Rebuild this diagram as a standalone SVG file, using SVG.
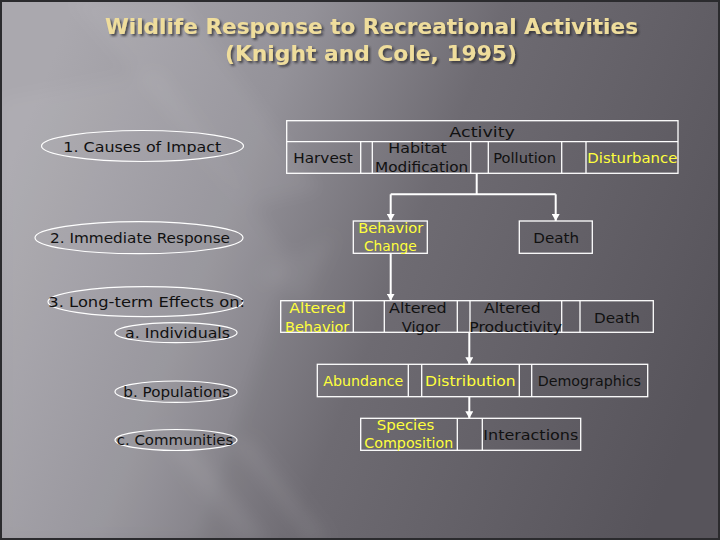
<svg xmlns="http://www.w3.org/2000/svg" width="720" height="540" viewBox="0 0 720 540">
<defs>
<linearGradient id="bg" x1="0" y1="0.35" x2="1" y2="0.65">
<stop offset="0" stop-color="#aaa8ae"/>
<stop offset="0.3" stop-color="#949299"/>
<stop offset="0.55" stop-color="#6e6b72"/>
<stop offset="1" stop-color="#57545b"/>
</linearGradient>
<filter id="soft" x="-20%" y="-20%" width="140%" height="140%">
<feGaussianBlur stdDeviation="8"/>
</filter>
<filter id="shadow" x="-5%" y="-20%" width="110%" height="150%">
<feDropShadow dx="2" dy="2" stdDeviation="0.8" flood-color="#222226" flood-opacity="0.7"/>
</filter>
<marker id="arr" markerUnits="userSpaceOnUse" markerWidth="7" markerHeight="8" refX="7" refY="4" orient="auto" viewBox="0 0 7 8">
<path d="M0,0 L7,4 L0,8 Z" fill="#ffffff"/>
</marker>
<style>
.t{font-family:"DejaVu Sans",sans-serif;font-size:14px;fill:#111111}
.y{fill:#ffff3c}
.title{font-family:"DejaVu Sans",sans-serif;font-weight:bold;font-size:22px;fill:#efdd9c}
.ell{fill:none;stroke:#ffffff;stroke-width:1.2}
.box{fill:none;stroke:#ffffff;stroke-width:1.3}
.con{fill:none;stroke:#ffffff;stroke-width:2}
</style>
</defs>
<rect x="0" y="0" width="720" height="540" fill="url(#bg)"/>
<g filter="url(#soft)">
<polygon points="70,0 180,0 320,190 250,205" fill="#ffffff" opacity="0.05"/>
<polygon points="0,100 160,70 290,260 200,540 0,540" fill="#ffffff" opacity="0.05"/>
<polygon points="155,430 180,430 270,540 240,540" fill="#ffffff" opacity="0.07"/>
<polygon points="230,440 252,440 330,540 305,540" fill="#ffffff" opacity="0.07"/>
<polygon points="255,275 335,235 305,300" fill="#ffffff" opacity="0.05"/>
</g>
<rect x="1" y="1" width="718" height="538" fill="none" stroke="#2b2b2e" stroke-width="2"/>

<g id="title" filter="url(#shadow)">
<text class="title" x="105" y="34" textLength="533" lengthAdjust="spacingAndGlyphs">Wildlife Response to Recreational Activities</text>
<text class="title" x="225" y="61" textLength="292" lengthAdjust="spacingAndGlyphs">(Knight and Cole, 1995)</text>
</g>

<g id="causes">
<ellipse class="ell" cx="142.5" cy="146" rx="101" ry="15.5"/>
<text class="t" x="63.3" y="151.7" textLength="158" lengthAdjust="spacingAndGlyphs">1. Causes of Impact</text>
</g>
<g id="immediate">
<ellipse class="ell" cx="139" cy="237.7" rx="104" ry="16"/>
<text class="t" x="50" y="243.3" textLength="180" lengthAdjust="spacingAndGlyphs">2. Immediate Response</text>
</g>
<g id="longterm">
<ellipse class="ell" cx="145.5" cy="301.7" rx="97.5" ry="15"/>
<text class="t" x="48.3" y="307.3" textLength="196.7" lengthAdjust="spacingAndGlyphs">3. Long-term Effects on:</text>
</g>
<g id="individuals">
<ellipse class="ell" cx="176" cy="332.7" rx="61" ry="10"/>
<text class="t" x="125" y="338.3" textLength="105" lengthAdjust="spacingAndGlyphs">a. Individuals</text>
</g>
<g id="populations">
<ellipse class="ell" cx="176" cy="391.7" rx="61" ry="10.7"/>
<text class="t" x="123.3" y="396.7" textLength="106.7" lengthAdjust="spacingAndGlyphs">b. Populations</text>
</g>
<g id="communities">
<ellipse class="ell" cx="176" cy="440" rx="61" ry="10.5"/>
<text class="t" x="116.7" y="445" textLength="116.6" lengthAdjust="spacingAndGlyphs">c. Communities</text>
</g>

<g id="activity">
<rect class="box" x="286.7" y="120.7" width="391.3" height="52.6"/>
<line class="box" x1="286.7" y1="141.7" x2="678" y2="141.7"/>
<line class="box" x1="360.7" y1="141.7" x2="360.7" y2="173.3"/>
<line class="box" x1="372.3" y1="141.7" x2="372.3" y2="173.3"/>
<line class="box" x1="470.7" y1="141.7" x2="470.7" y2="173.3"/>
<line class="box" x1="488.3" y1="141.7" x2="488.3" y2="173.3"/>
<line class="box" x1="561.7" y1="141.7" x2="561.7" y2="173.3"/>
<line class="box" x1="586" y1="141.7" x2="586" y2="173.3"/>
<text class="t" x="449.3" y="137.3" textLength="65.7" lengthAdjust="spacingAndGlyphs">Activity</text>
</g>
<g id="harvest"><text class="t" x="293.3" y="163.3" textLength="59.4" lengthAdjust="spacingAndGlyphs">Harvest</text></g>
<g id="habitat">
<text class="t" x="388.3" y="152.7" textLength="58.4" lengthAdjust="spacingAndGlyphs">Habitat</text>
<text class="t" x="375" y="171.7" textLength="93.3" lengthAdjust="spacingAndGlyphs">Modification</text>
</g>
<g id="pollution"><text class="t" x="493.3" y="163.3" textLength="62.7" lengthAdjust="spacingAndGlyphs">Pollution</text></g>
<g id="disturbance"><text class="t y" x="587.3" y="163.3" textLength="90" lengthAdjust="spacingAndGlyphs">Disturbance</text></g>

<g id="behavior-change">
<rect class="box" x="353.3" y="221" width="74" height="32.3"/>
<text class="t y" x="358.3" y="232.7" textLength="65" lengthAdjust="spacingAndGlyphs">Behavior</text>
<text class="t y" x="364" y="250.7" textLength="52.7" lengthAdjust="spacingAndGlyphs">Change</text>
</g>
<g id="death1">
<rect class="box" x="519.3" y="221" width="73" height="32.3"/>
<text class="t" x="533.3" y="243.3" textLength="45.7" lengthAdjust="spacingAndGlyphs">Death</text>
</g>

<g id="individual-effects">
<rect class="box" x="280.7" y="300.7" width="372.6" height="31.6"/>
<line class="box" x1="353.3" y1="300.7" x2="353.3" y2="332.3"/>
<line class="box" x1="384.3" y1="300.7" x2="384.3" y2="332.3"/>
<line class="box" x1="457.3" y1="300.7" x2="457.3" y2="332.3"/>
<line class="box" x1="470" y1="300.7" x2="470" y2="332.3"/>
<line class="box" x1="561.7" y1="300.7" x2="561.7" y2="332.3"/>
<line class="box" x1="580" y1="300.7" x2="580" y2="332.3"/>
</g>
<g id="altered-behavior">
<text class="t y" x="289.3" y="313.3" textLength="56.7" lengthAdjust="spacingAndGlyphs">Altered</text>
<text class="t y" x="285" y="331.7" textLength="64.3" lengthAdjust="spacingAndGlyphs">Behavior</text>
</g>
<g id="altered-vigor">
<text class="t" x="389" y="313.3" textLength="57.7" lengthAdjust="spacingAndGlyphs">Altered</text>
<text class="t" x="401.7" y="331.7" textLength="38.3" lengthAdjust="spacingAndGlyphs">Vigor</text>
</g>
<g id="altered-productivity">
<text class="t" x="484" y="313.3" textLength="56.7" lengthAdjust="spacingAndGlyphs">Altered</text>
<text class="t" x="469.3" y="331.7" textLength="92.7" lengthAdjust="spacingAndGlyphs">Productivity</text>
</g>
<g id="death2"><text class="t" x="594" y="323.3" textLength="46" lengthAdjust="spacingAndGlyphs">Death</text></g>

<g id="population-effects">
<rect class="box" x="317.3" y="364.3" width="330.4" height="32.4"/>
<line class="box" x1="408.3" y1="364.3" x2="408.3" y2="396.7"/>
<line class="box" x1="421.7" y1="364.3" x2="421.7" y2="396.7"/>
<line class="box" x1="519.3" y1="364.3" x2="519.3" y2="396.7"/>
<line class="box" x1="531.7" y1="364.3" x2="531.7" y2="396.7"/>
</g>
<g id="abundance"><text class="t y" x="323.3" y="385.7" textLength="80" lengthAdjust="spacingAndGlyphs">Abundance</text></g>
<g id="distribution"><text class="t y" x="425" y="385.7" textLength="90.7" lengthAdjust="spacingAndGlyphs">Distribution</text></g>
<g id="demographics"><text class="t" x="537.7" y="385.7" textLength="103.3" lengthAdjust="spacingAndGlyphs">Demographics</text></g>

<g id="community-effects">
<rect class="box" x="360.7" y="418.3" width="220" height="32"/>
<line class="box" x1="457.3" y1="418.3" x2="457.3" y2="450.3"/>
<line class="box" x1="482.3" y1="418.3" x2="482.3" y2="450.3"/>
</g>
<g id="species-composition">
<text class="t y" x="376.7" y="430" textLength="57.6" lengthAdjust="spacingAndGlyphs">Species</text>
<text class="t y" x="364.3" y="448.3" textLength="89" lengthAdjust="spacingAndGlyphs">Composition</text>
</g>
<g id="interactions"><text class="t" x="483.3" y="440" textLength="95" lengthAdjust="spacingAndGlyphs">Interactions</text></g>

<g id="connectors">
<line class="con" x1="476.7" y1="173.3" x2="476.7" y2="194.3"/>
<line class="con" x1="390.7" y1="194.3" x2="555.7" y2="194.3"/>
<line class="con" x1="390.7" y1="194.3" x2="390.7" y2="221" marker-end="url(#arr)"/>
<line class="con" x1="555.7" y1="194.3" x2="555.7" y2="221" marker-end="url(#arr)"/>
<line class="con" x1="390.7" y1="253.3" x2="390.7" y2="300.7" marker-end="url(#arr)"/>
<line class="con" x1="469.3" y1="332.3" x2="469.3" y2="364.3" marker-end="url(#arr)"/>
<line class="con" x1="469.3" y1="396.7" x2="469.3" y2="418.3" marker-end="url(#arr)"/>
</g>
</svg>
